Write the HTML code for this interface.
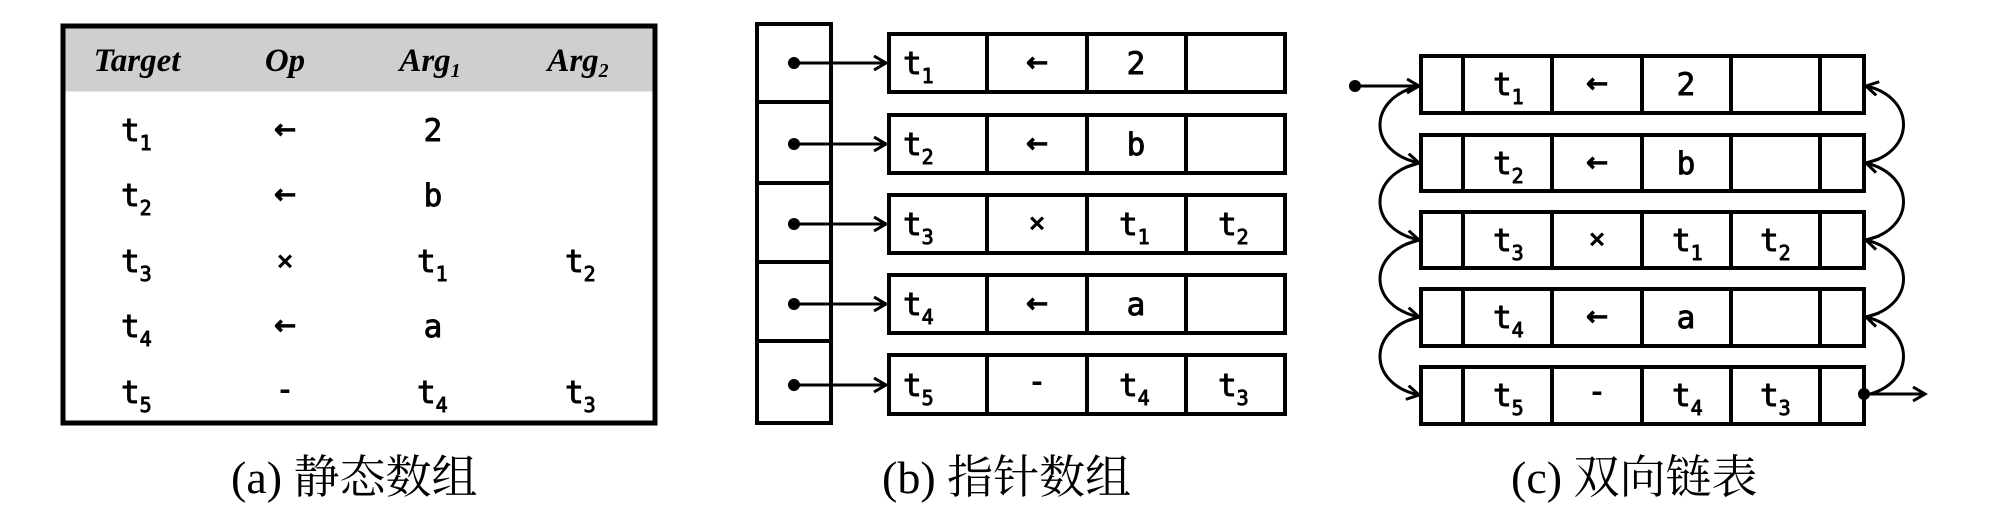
<!DOCTYPE html>
<html><head><meta charset="utf-8"><style>
html,body{margin:0;padding:0;background:#fff}
svg{display:block}
.m{font-family:"DejaVu Sans Mono","Liberation Mono",monospace;font-size:31px;fill:#000;stroke:#000;stroke-width:0.9px}
.s{font-size:20px}
.h{font-family:"Liberation Serif",serif;font-weight:bold;font-style:italic;font-size:33px}
.c{font-family:"Liberation Serif","Noto Serif CJK SC",serif;font-size:46px}
.ar{font-family:"DejaVu Sans",sans-serif;font-size:26px;stroke-width:1.4px}
.x{font-size:28px}
</style></head><body>
<svg width="2008" height="532" viewBox="0 0 2008 532" xmlns="http://www.w3.org/2000/svg">
<defs>
<marker id="v" markerUnits="userSpaceOnUse" markerWidth="18" markerHeight="18" refX="14" refY="8" orient="auto"><path d="M2,1 L14,8 L2,15" fill="none" stroke="#000" stroke-width="3"/></marker>
</defs>
<!-- Panel A -->
<rect x="63" y="26" width="592" height="397" fill="#fff" stroke="#000" stroke-width="5"/>
<rect x="65.5" y="28.5" width="587" height="63" fill="#d0cecf"/>
<text class="h" x="137" y="71" text-anchor="middle">Target</text>
<text class="h" x="285" y="71" text-anchor="middle">Op</text>
<text class="h" x="430" y="71" text-anchor="middle">Arg<tspan class="s" dy="6">1</tspan></text>
<text class="h" x="578" y="71" text-anchor="middle">Arg<tspan class="s" dy="6">2</tspan></text>
<g class="m">
<text x="121" y="141">t<tspan class="s" dy="9">1</tspan></text>
<text x="121" y="206">t<tspan class="s" dy="9">2</tspan></text>
<text x="121" y="272">t<tspan class="s" dy="9">3</tspan></text>
<text x="121" y="337">t<tspan class="s" dy="9">4</tspan></text>
<text x="121" y="403">t<tspan class="s" dy="9">5</tspan></text>
<text class="ar" x="285" y="138" text-anchor="middle">←</text>
<text class="ar" x="285" y="203" text-anchor="middle">←</text>
<text class="x" x="285" y="270" text-anchor="middle">×</text>
<text class="ar" x="285" y="334" text-anchor="middle">←</text>
<text x="285" y="400" text-anchor="middle">-</text>
<text x="433" y="141" text-anchor="middle">2</text>
<text x="433" y="206" text-anchor="middle">b</text>
<text x="417" y="272">t<tspan class="s" dy="9">1</tspan></text>
<text x="433" y="337" text-anchor="middle">a</text>
<text x="417" y="403">t<tspan class="s" dy="9">4</tspan></text>
<text x="565" y="272">t<tspan class="s" dy="9">2</tspan></text>
<text x="565" y="403">t<tspan class="s" dy="9">3</tspan></text>
</g>
<text class="c" x="231" y="493">(a) 静态数组</text>

<!-- Panel B -->
<g fill="none" stroke="#000" stroke-width="4">
<rect x="757" y="24" width="74" height="399"/>
<line x1="757" y1="102" x2="831" y2="102"/><line x1="757" y1="183" x2="831" y2="183"/>
<line x1="757" y1="262" x2="831" y2="262"/><line x1="757" y1="341" x2="831" y2="341"/>
<rect x="889" y="34" width="396" height="58"/>
<rect x="889" y="115" width="396" height="58"/>
<rect x="889" y="195" width="396" height="58"/>
<rect x="889" y="275" width="396" height="58"/>
<rect x="889" y="355" width="396" height="59"/>
<path d="M987,34V92M1087,34V92M1186,34V92 M987,115V173M1087,115V173M1186,115V173 M987,195V253M1087,195V253M1186,195V253 M987,275V333M1087,275V333M1186,275V333 M987,355V414M1087,355V414M1186,355V414"/>
</g>
<g stroke="#000" stroke-width="3" fill="none" marker-end="url(#v)">
<line x1="794" y1="63" x2="886" y2="63"/>
<line x1="794" y1="144" x2="886" y2="144"/>
<line x1="794" y1="224" x2="886" y2="224"/>
<line x1="794" y1="304" x2="886" y2="304"/>
<line x1="794" y1="385" x2="886" y2="385"/>
</g>
<g fill="#000"><circle cx="794" cy="63" r="6"/><circle cx="794" cy="144" r="6"/><circle cx="794" cy="224" r="6"/><circle cx="794" cy="304" r="6"/><circle cx="794" cy="385" r="6"/></g>
<g class="m">
<text x="903" y="74">t<tspan class="s" dy="9">1</tspan></text>
<text x="903" y="155">t<tspan class="s" dy="9">2</tspan></text>
<text x="903" y="235">t<tspan class="s" dy="9">3</tspan></text>
<text x="903" y="315">t<tspan class="s" dy="9">4</tspan></text>
<text x="903" y="396">t<tspan class="s" dy="9">5</tspan></text>
<text class="ar" x="1037" y="71" text-anchor="middle">←</text>
<text class="ar" x="1037" y="152" text-anchor="middle">←</text>
<text class="x" x="1037" y="232" text-anchor="middle">×</text>
<text class="ar" x="1037" y="312" text-anchor="middle">←</text>
<text x="1037" y="392" text-anchor="middle">-</text>
<text x="1136" y="74" text-anchor="middle">2</text>
<text x="1136" y="155" text-anchor="middle">b</text>
<text x="1119" y="235">t<tspan class="s" dy="9">1</tspan></text>
<text x="1136" y="315" text-anchor="middle">a</text>
<text x="1119" y="396">t<tspan class="s" dy="9">4</tspan></text>
<text x="1218" y="235">t<tspan class="s" dy="9">2</tspan></text>
<text x="1218" y="396">t<tspan class="s" dy="9">3</tspan></text>
</g>
<text class="c" x="882" y="493">(b) 指针数组</text>

<!-- Panel C -->
<g fill="none" stroke="#000" stroke-width="4">
<rect x="1421" y="56" width="443" height="57"/>
<rect x="1421" y="135" width="443" height="56"/>
<rect x="1421" y="212" width="443" height="56"/>
<rect x="1421" y="289" width="443" height="57"/>
<rect x="1421" y="367" width="443" height="57"/>
<path d="M1463,56V113M1552,56V113M1642,56V113M1731,56V113M1820,56V113 M1463,135V191M1552,135V191M1642,135V191M1731,135V191M1820,135V191 M1463,212V268M1552,212V268M1642,212V268M1731,212V268M1820,212V268 M1463,289V346M1552,289V346M1642,289V346M1731,289V346M1820,289V346 M1463,367V424M1552,367V424M1642,367V424M1731,367V424M1820,367V424"/>
</g>
<g stroke="#000" stroke-width="3" fill="none" marker-end="url(#v)">
<line x1="1355" y1="86" x2="1419" y2="86"/>
<path d="M1419,86 C1367,98 1367,152 1419,163"/>
<path d="M1419,163 C1367,175 1367,229 1419,240"/>
<path d="M1419,240 C1367,252 1367,306 1419,317"/>
<path d="M1419,317 C1367,329 1367,384 1419,395"/>
<path d="M1866,163 C1916,152 1916,97 1866,86"/>
<path d="M1866,240 C1916,229 1916,175 1866,163"/>
<path d="M1866,317 C1916,306 1916,252 1866,240"/>
<path d="M1866,395 C1916,384 1916,329 1866,317"/>
<line x1="1864" y1="394" x2="1925" y2="394"/>
</g>
<g fill="#000"><circle cx="1355" cy="86" r="6"/><circle cx="1864" cy="394" r="6"/></g>
<g class="m">
<text x="1493" y="95">t<tspan class="s" dy="9">1</tspan></text>
<text x="1493" y="174">t<tspan class="s" dy="9">2</tspan></text>
<text x="1493" y="251">t<tspan class="s" dy="9">3</tspan></text>
<text x="1493" y="328">t<tspan class="s" dy="9">4</tspan></text>
<text x="1493" y="406">t<tspan class="s" dy="9">5</tspan></text>
<text class="ar" x="1597" y="92" text-anchor="middle">←</text>
<text class="ar" x="1597" y="171" text-anchor="middle">←</text>
<text class="x" x="1597" y="248" text-anchor="middle">×</text>
<text class="ar" x="1597" y="325" text-anchor="middle">←</text>
<text x="1597" y="402" text-anchor="middle">-</text>
<text x="1686" y="95" text-anchor="middle">2</text>
<text x="1686" y="174" text-anchor="middle">b</text>
<text x="1672" y="251">t<tspan class="s" dy="9">1</tspan></text>
<text x="1686" y="328" text-anchor="middle">a</text>
<text x="1672" y="406">t<tspan class="s" dy="9">4</tspan></text>
<text x="1760" y="251">t<tspan class="s" dy="9">2</tspan></text>
<text x="1760" y="406">t<tspan class="s" dy="9">3</tspan></text>
</g>
<text class="c" x="1511" y="493">(c) 双向链表</text>
</svg>
</body></html>
